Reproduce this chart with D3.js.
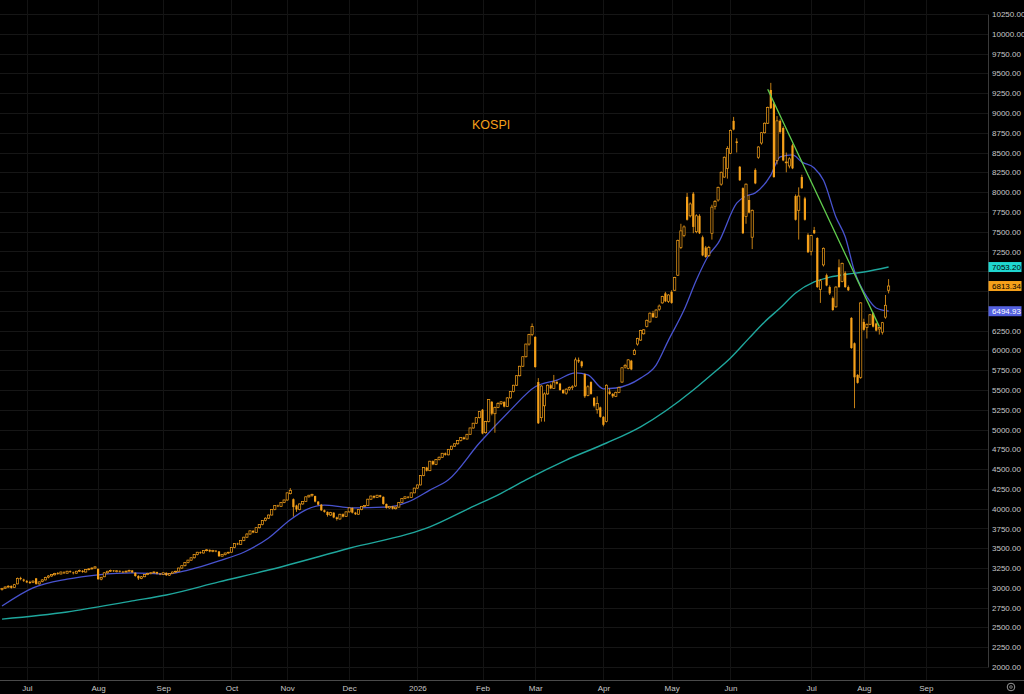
<!DOCTYPE html>
<html lang="en">
<head>
<meta charset="utf-8">
<title>KOSPI</title>
<script src="https://d3js.org/d3.v7.min.js"></script>
<style>
body { margin: 0; background: #000; overflow: hidden; }
svg text { font-family: "Liberation Sans", Arial, sans-serif; }
</style>
</head>
<body>
<div id="chart"></div>
<script>
// ---- data ----
// month labels on the time axis and the bar index each one sits on
var monthLabels = ["Jul", "Aug", "Sep", "Oct", "Nov", "Dec", "2026", "Feb", "Mar", "Apr", "May", "Jun", "Jul", "Aug", "Sep"];
var monthBars = [8, 31, 52, 74, 92, 112, 134, 155, 172, 194, 216, 235, 261, 278, 298];

var priceTicks = [2000, 2250, 2500, 2750, 3000, 3250, 3500, 3750, 4000, 4250, 4500, 4750, 5000, 5250,
  5500, 5750, 6000, 6250, 6500, 6750, 7000, 7250, 7500, 7750, 8000, 8250, 8500, 8750, 9000, 9250,
  9500, 9750, 10000, 10250];

// daily candles: [open, high, low, close]
var candles = [
  [2980,3000,2965,2990],[2995,3020,2985,3010],[3010,3035,3000,3020],[3025,3030,2990,3000],[3005,3050,3000,3040],
  [3050,3130,3045,3120],[3125,3140,3095,3110],[3105,3115,3075,3090],[3085,3100,3060,3070],[3075,3090,3050,3060],
  [3070,3095,3060,3085],[3120,3125,3040,3050],[3050,3080,3040,3075],[3080,3110,3070,3100],[3100,3140,3095,3130],
  [3135,3160,3120,3150],[3150,3175,3140,3170],[3165,3190,3155,3180],[3185,3200,3165,3175],[3175,3205,3170,3200],
  [3195,3210,3175,3185],[3185,3215,3180,3210],[3210,3220,3190,3200],[3195,3205,3170,3185],[3185,3215,3180,3210],
  [3210,3230,3200,3220],[3215,3225,3190,3200],[3200,3235,3195,3230],[3230,3250,3220,3240],[3240,3260,3230,3250],
  [3250,3275,3240,3265],[3240,3245,3100,3110],[3110,3140,3095,3130],[3140,3200,3135,3190],[3190,3215,3180,3210],
  [3210,3230,3200,3220],[3220,3225,3200,3210],[3210,3225,3195,3215],[3215,3220,3195,3205],[3205,3215,3190,3200],
  [3200,3220,3195,3210],[3210,3230,3205,3220],[3220,3225,3190,3195],[3190,3195,3140,3150],[3150,3160,3100,3120],
  [3120,3150,3110,3140],[3140,3175,3135,3170],[3170,3190,3160,3180],[3180,3200,3170,3190],[3190,3210,3185,3200],
  [3200,3205,3170,3180],[3180,3185,3160,3170],[3170,3195,3165,3190],[3190,3195,3150,3160],[3160,3185,3150,3180],
  [3180,3205,3175,3200],[3200,3215,3190,3210],[3210,3255,3205,3250],[3250,3285,3240,3280],[3280,3325,3270,3320],
  [3320,3355,3310,3350],[3350,3385,3340,3380],[3380,3425,3370,3420],[3420,3455,3410,3450],[3450,3460,3430,3440],
  [3440,3475,3435,3470],[3470,3490,3460,3480],[3480,3485,3450,3460],[3460,3480,3450,3470],[3470,3475,3450,3460],
  [3460,3465,3390,3400],[3400,3425,3395,3420],[3420,3445,3410,3440],[3440,3455,3430,3450],[3450,3515,3445,3510],
  [3510,3565,3500,3560],[3560,3570,3540,3550],[3550,3605,3545,3600],[3600,3645,3590,3640],[3640,3690,3630,3680],
  [3680,3725,3670,3720],[3720,3730,3690,3700],[3700,3765,3695,3760],[3760,3805,3750,3800],[3800,3855,3790,3850],
  [3850,3890,3840,3880],[3880,3925,3870,3920],[3920,3995,3915,3990],[3990,4045,3980,4040],[4040,4050,4020,4030],
  [4030,4085,4025,4080],[4080,4115,4070,4110],[4110,4205,4100,4200],[4190,4260,4180,4230],[4120,4130,3900,4020],
  [4040,4050,3960,3990],[3990,4065,3980,4060],[4060,4095,4050,4090],[4090,4155,4085,4150],[4150,4175,4140,4170],
  [4170,4190,4150,4180],[4160,4165,4080,4090],[4090,4095,4040,4050],[4050,4060,3970,3980],[3980,3990,3950,3960],
  [3960,3965,3900,3920],[3920,3960,3910,3950],[3950,3955,3880,3890],[3890,3900,3850,3870],[3870,3935,3860,3930],
  [3930,3940,3890,3900],[3900,3965,3895,3960],[3960,4015,3950,4010],[4010,4015,3940,3950],[3950,3960,3920,3930],
  [3930,3995,3925,3990],[3990,4035,3980,4030],[4030,4045,4020,4040],[4040,4125,4035,4120],[4120,4165,4110,4160],
  [4160,4170,4130,4140],[4140,4175,4135,4170],[4170,4175,4140,4150],[4150,4155,4050,4060],[4060,4065,4000,4010],
  [4010,4035,4000,4030],[4030,4035,3990,4000],[4000,4025,3990,4020],[4020,4085,4015,4080],[4080,4135,4075,4130],
  [4130,4155,4120,4150],[4150,4160,4130,4140],[4140,4205,4135,4200],[4200,4265,4195,4260],[4260,4305,4250,4300],
  [4300,4425,4295,4420],[4420,4525,4410,4520],[4520,4530,4470,4480],[4480,4605,4475,4600],[4600,4610,4550,4560],
  [4560,4625,4550,4620],[4620,4660,4610,4650],[4650,4705,4640,4700],[4700,4710,4670,4680],[4680,4755,4675,4750],
  [4750,4795,4740,4790],[4790,4825,4780,4820],[4820,4865,4810,4860],[4860,4905,4850,4900],[4900,4910,4870,4880],
  [4880,4945,4875,4940],[4940,5025,4935,5020],[5020,5085,5010,5080],[5080,5155,5070,5150],[5150,5235,5140,5230],
  [5250,5260,4940,4950],[4960,5110,4950,5100],[5100,5385,5090,5380],[5350,5360,5180,5200],[5200,5290,4960,5280],
  [5280,5345,5270,5330],[5330,5360,5310,5350],[5350,5355,5280,5290],[5290,5410,5285,5400],[5400,5485,5390,5480],
  [5480,5565,5470,5560],[5560,5685,5550,5680],[5680,5805,5670,5800],[5800,5925,5790,5920],[5920,6085,5910,6080],
  [6080,6210,6060,6200],[6200,6340,6180,6300],[6170,6180,5780,5790],[5600,5650,5070,5080],[5150,5560,5100,5550],
  [5300,5470,5100,5450],[5450,5570,5440,5560],[5560,5580,5510,5520],[5520,5690,5515,5600],[5600,5620,5570,5580],
  [5580,5590,5490,5500],[5500,5510,5450,5460],[5460,5520,5440,5510],[5510,5545,5490,5530],[5530,5560,5500,5540],
  [5550,5910,5540,5880],[5880,5910,5840,5860],[5860,5870,5780,5800],[5700,5710,5400,5420],[5430,5560,5420,5540],
  [5600,5610,5440,5450],[5400,5410,5280,5300],[5250,5420,5200,5330],[5280,5290,5150,5160],[5160,5170,5040,5060],
  [5100,5570,5090,5560],[5480,5520,5440,5450],[5450,5460,5400,5420],[5420,5480,5410,5470],[5470,5540,5460,5530],
  [5600,5790,5590,5780],[5790,5830,5770,5810],[5770,5890,5760,5880],[5870,5880,5750,5760],[5950,6020,5940,6000],
  [6080,6160,6060,6150],[6130,6260,6120,6250],[6210,6270,6200,6260],[6300,6390,6290,6380],[6360,6480,6350,6470],
  [6470,6500,6410,6420],[6420,6520,6410,6510],[6520,6580,6500,6560],[6600,6690,6590,6680],[6720,6740,6610,6620],
  [6620,6710,6600,6700],[6740,6760,6590,6600],[6760,6930,6750,6920],[6950,7400,6940,7390],[7300,7600,7280,7510],
  [7450,7580,7430,7560],[7940,7990,7640,7650],[7700,7870,7680,7850],[7980,8000,7480,7560],[7500,7720,7480,7700],
  [7700,7720,7470,7480],[7430,7450,7190,7200],[7300,7320,7170,7180],[7200,7320,7180,7300],[7480,7840,7400,7810],
  [7820,7900,7780,7880],[7900,8070,7880,8060],[8100,8260,8080,8250],[8190,8450,8180,8440],[8300,8580,8170,8550],
  [8490,8790,8480,8780],[8900,8950,8780,8790],[8640,8680,8500,8620],[8320,8330,8140,8150],[8050,8060,7470,7480],
  [7690,8110,7600,8100],[7900,7960,7730,7740],[7430,7780,7280,7770],[8280,8300,8100,8110],[8440,8580,8420,8570],
  [8620,8760,8600,8750],[8750,8880,8740,8870],[8870,9080,8860,9070],[9290,9380,9050,9060],[9120,9140,8180,8190],
  [8400,8960,8350,8900],[8900,8920,8740,8760],[8810,8830,8390,8400],[8370,8500,8250,8380],[8330,8440,8300,8420],
  [8590,8610,8290,8300],[7950,7970,7640,7650],[7770,8060,7400,7950],[8190,8220,8040,8050],[7920,7940,7640,7650],
  [7460,7480,7230,7240],[7250,7460,7200,7450],[7520,7560,7470,7480],[7420,7430,6790,6800],[6770,6900,6600,6880],
  [7080,7300,7060,7290],[6950,6970,6810,6820],[6800,6820,6700,6720],[6660,6680,6500,6510],[6550,6810,6540,6800],
  [7050,7150,6790,6800],[6870,7110,6860,7100],[6980,7000,6790,6800],[6800,6820,6750,6760],[6410,6420,6020,6030],
  [6090,6100,5270,5660],[5690,5700,5580,5590],[5660,6610,5640,6600],[6360,6400,6250,6260],[6290,6340,6150,6330],
  [6330,6460,6320,6450],[6470,6480,6290,6300],[6340,6350,6240,6250],[6270,6300,6200,6290],[6230,6360,6200,6350],
  [6420,6700,6400,6570],[6760,6900,6720,6813.34]
];

// short moving average (blue): [bar, value]
var maShort = [
  [0,2770],[10,3000],[21,3110],[31,3165],[42,3190],[53,3175],[60,3225],[66,3290],[70,3340],[78,3450],
  [86,3630],[93,3860],[98,3985],[104,4045],[110,4020],[114,4010],[123,4020],[127,4035],[131,4085],[138,4235],
  [144,4365],[154,4830],[164,5245],[172,5540],[179,5625],[185,5715],[189,5690],[194,5515],[198,5525],[206,5650],
  [211,5815],[215,6130],[220,6510],[224,6890],[228,7205],[231,7355],[237,7860],[240,7950],[243,7990],[248,8215],
  [251,8445],[255,8470],[258,8380],[262,8305],[265,8150],[269,7685],[272,7435],[275,7000],[279,6675],[282,6536],
  [286,6494.93]
];

// long moving average (teal): [bar, value]
var maLong = [
  [0,2605],[21,2695],[42,2835],[53,2910],[70,3075],[86,3225],[112,3500],[138,3770],[151,4010],[161,4195],
  [169,4365],[182,4615],[195,4830],[206,5035],[223,5500],[228,5665],[235,5905],[241,6155],[246,6360],[251,6535],
  [256,6725],[262,6865],[267,6925],[273,6965],[278,6990],[286,7053.20]
];

// drawn trend line from the top: [bar, value]
var trendLine = [[247, 9300], [283, 6300]];

var title = "KOSPI";

// ---- layout ----
var W = 1024, H = 694;
var plotW = 988, plotH = 680;
var orange = "#f5a01a";

var svg = d3.select("#chart").append("svg")
  .attr("width", W)
  .attr("height", H)
  .style("background", "#000");

var x = d3.scaleLinear().domain([0, 318]).range([2, 987.8]);
var y = d3.scaleLinear().domain([2000, 10250]).range([667, 14]);

svg.append("clipPath").attr("id", "plot")
  .append("rect").attr("width", plotW).attr("height", plotH);

// grid
svg.append("g")
  .selectAll("line.h")
  .data(priceTicks)
  .enter().append("line")
  .attr("x1", 0).attr("x2", plotW)
  .attr("y1", function(d) { return Math.round(y(d)) + 0.5; })
  .attr("y2", function(d) { return Math.round(y(d)) + 0.5; })
  .attr("stroke", "#161616");

svg.append("g")
  .selectAll("line.v")
  .data(monthBars)
  .enter().append("line")
  .attr("y1", 0).attr("y2", plotH)
  .attr("x1", function(d) { return Math.round(x(d)) + 0.5; })
  .attr("x2", function(d) { return Math.round(x(d)) + 0.5; })
  .attr("stroke", "#131313");

var plot = svg.append("g").attr("clip-path", "url(#plot)");

// moving averages, drawn under the candles
var line = d3.line()
  .x(function(d) { return x(d[0]); })
  .y(function(d) { return y(d[1]); })
  .curve(d3.curveMonotoneX);

plot.append("path").datum(maLong)
  .attr("d", line).attr("fill", "none")
  .attr("stroke", "#1fa79d").attr("stroke-width", 1.4);

plot.append("path").datum(maShort)
  .attr("d", line).attr("fill", "none")
  .attr("stroke", "#4853cf").attr("stroke-width", 1.3);

// candles
var bw = 2.2;
var c = plot.selectAll("g.candle")
  .data(candles)
  .enter().append("g")
  .attr("class", "candle");

c.append("line")
  .attr("x1", function(d, i) { return x(i); })
  .attr("x2", function(d, i) { return x(i); })
  .attr("y1", function(d) { return y(d[1]); })
  .attr("y2", function(d) { return y(d[2]); })
  .attr("stroke", orange)
  .attr("stroke-width", 0.8);

c.append("rect")
  .attr("x", function(d, i) { return x(i) - bw / 2; })
  .attr("width", bw)
  .attr("y", function(d) { return y(Math.max(d[0], d[3])); })
  .attr("height", function(d) { return Math.max(0.8, Math.abs(y(d[0]) - y(d[3]))); })
  .attr("fill", function(d) { return d[3] >= d[0] ? "#000" : orange; })
  .attr("stroke", orange)
  .attr("stroke-width", function(d) { return d[3] >= d[0] ? 0.7 : 0; });

// trend line
plot.append("path").datum(trendLine)
  .attr("d", d3.line().x(function(d) { return x(d[0]); }).y(function(d) { return y(d[1]); }))
  .attr("stroke", "#62cf4e").attr("stroke-width", 1.3).attr("fill", "none");

// title
svg.append("text")
  .attr("x", 472).attr("y", 129)
  .attr("fill", orange)
  .attr("font-size", 12.5)
  .text(title);

// last-value tags on the price axis
var tags = [
  { v: maLong[maLong.length - 1][1], bg: "#1fd6d0", fg: "#000" },
  { v: candles[candles.length - 1][3], bg: "#f5a01a", fg: "#000" },
  { v: maShort[maShort.length - 1][1], bg: "#5461e0", fg: "#fff" }
];

// right price axis; labels sitting under a tag are covered, so leave them out
var covered = function(t) {
  return tags.some(function(g) { return Math.abs(y(g.v) - y(t)) < 10; });
};
var yAxis = svg.append("g")
  .attr("transform", "translate(" + plotW + ",0)")
  .call(d3.axisRight(y).tickValues(priceTicks)
    .tickFormat(function(d) { return covered(d) ? "" : d3.format(".2f")(d); })
    .tickSize(0).tickPadding(4));
yAxis.select(".domain").attr("stroke", "#3a3a3a");
yAxis.selectAll("text").attr("fill", "#c8c8c8").attr("font-size", 8)
  .style("font-family", "'Liberation Sans', Arial, sans-serif");

// bottom time axis
var xAxis = svg.append("g")
  .attr("transform", "translate(0," + plotH + ")")
  .call(d3.axisBottom(x).tickValues(monthBars)
    .tickFormat(function(d, i) { return monthLabels[i]; })
    .tickSize(0).tickPadding(5));
xAxis.select(".domain").remove();
xAxis.selectAll("text").attr("fill", "#c8c8c8").attr("font-size", 8)
  .style("font-family", "'Liberation Sans', Arial, sans-serif");

svg.append("line")
  .attr("x1", 0).attr("x2", W).attr("y1", plotH + 0.5).attr("y2", plotH + 0.5)
  .attr("stroke", "#4a4a4a");

var tg = svg.append("g").selectAll("g").data(tags).enter().append("g")
  .attr("transform", function(d) { return "translate(" + (plotW + 0.5) + "," + y(d.v) + ")"; });
tg.append("rect").attr("x", 0).attr("y", -5).attr("width", 33).attr("height", 10)
  .attr("fill", function(d) { return d.bg; });
tg.append("text").attr("x", 3.5).attr("y", 3).attr("font-size", 8)
  .attr("fill", function(d) { return d.fg; })
  .text(function(d) { return d3.format(".2f")(d.v); });

// settings icon in the corner
svg.append("circle").attr("cx", 1011).attr("cy", 687).attr("r", 3.8)
  .attr("fill", "none").attr("stroke", "#9a9a9a").attr("stroke-width", 1);
svg.append("circle").attr("cx", 1011).attr("cy", 687).attr("r", 1.3)
  .attr("fill", "none").attr("stroke", "#9a9a9a").attr("stroke-width", 0.8);
</script>
</body>
</html>
